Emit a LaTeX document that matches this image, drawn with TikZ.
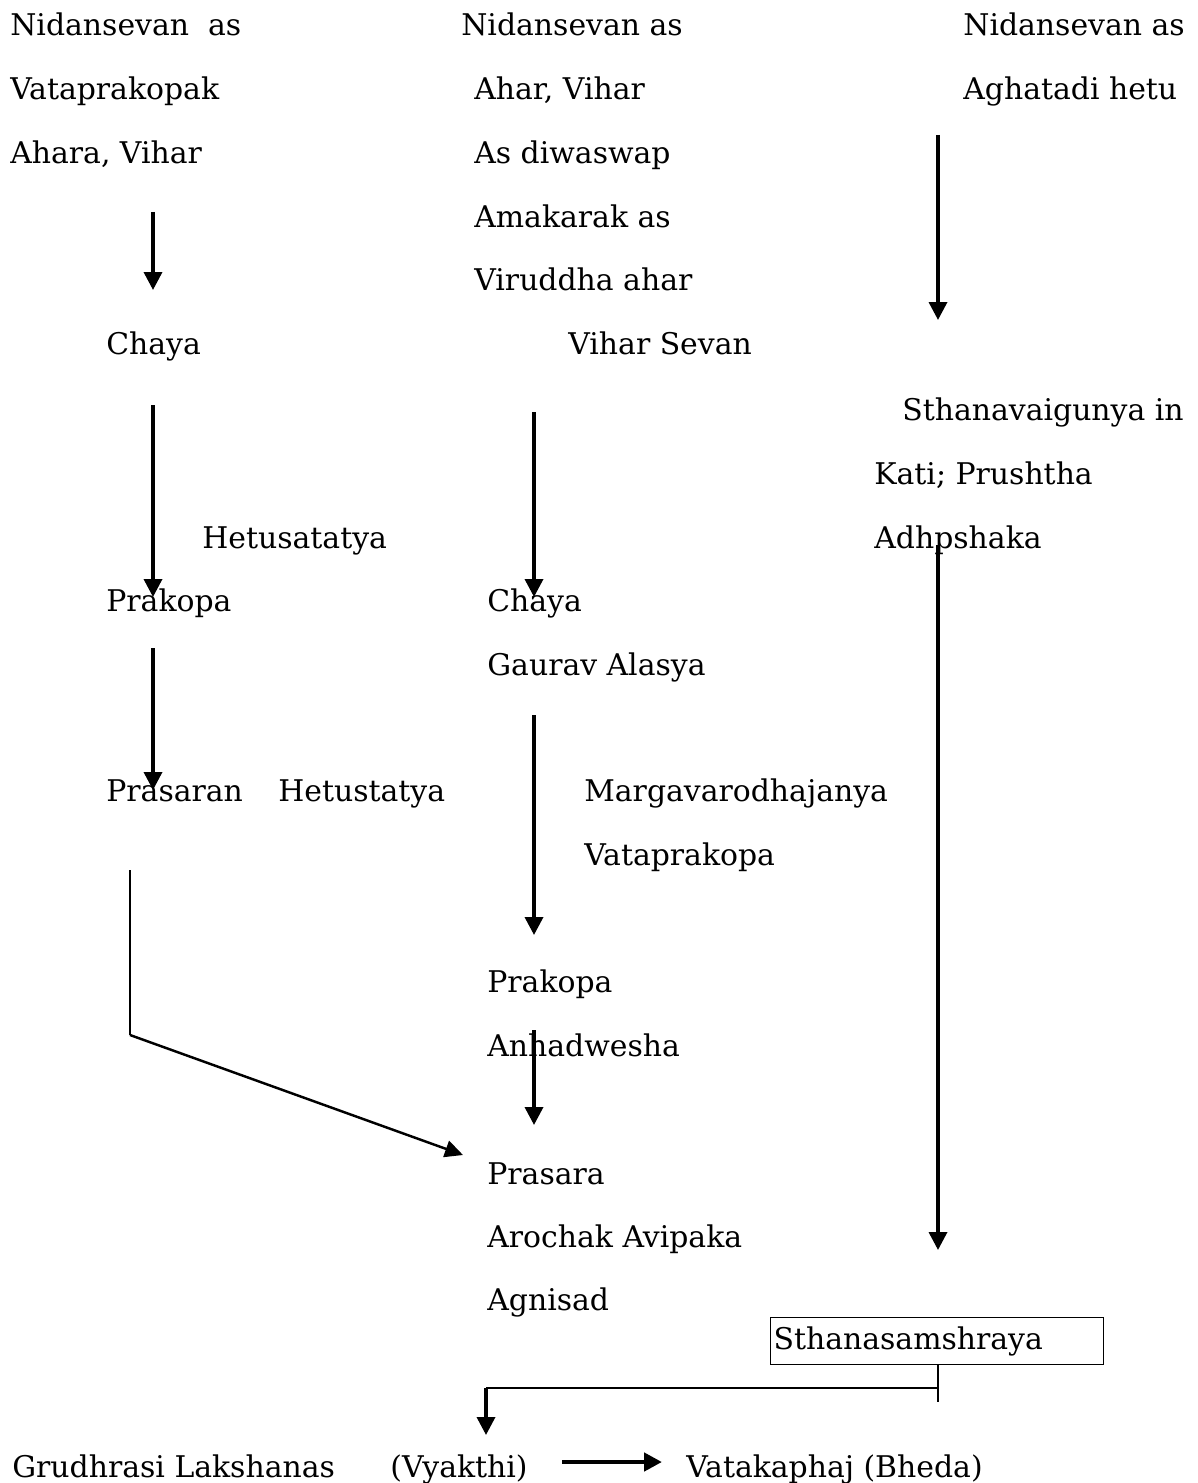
\documentclass[tikz,border=0pt]{standalone}
\usepackage{fontspec}
\setmainfont{DejaVu Serif}
\usetikzlibrary{arrows.meta,positioning}
\tikzset{
  stage/.style={anchor=base west, inner sep=0pt, font=\fontsize{17}{19}\selectfont},
  flow/.style={-{Triangle[length=3.6mm,width=3.6mm]}, line width=2pt},
  slant/.style={-{Triangle[length=3.6mm,width=3.4mm]}, line width=1.4pt},
  link/.style={line width=0.7pt},
  sitebox/.style={draw, line width=0.7pt, anchor=north west, inner xsep=0.06cm,
    text width=6.54cm, minimum height=0.94cm, align=left,
    font=\fontsize{17}{19}\selectfont}
}

\begin{document}
\begin{tikzpicture}[x=0.02cm, y=-0.02cm]
  \useasboundingbox (0,0) rectangle (1197,1483);

  % first column
  \node[stage] (nid1) at (10,36) {Nidansevan\ \ as};
  \node[stage] (vata1) at (10,100) {Vataprakopak};
  \node[stage] (ahara1) at (10,164) {Ahara, Vihar};
  \node[stage] (chaya1) at (106,355) {Chaya};
  \node[stage] (hetu1) at (202,548) {Hetusatatya};
  \node[stage] (prakopa1) at (106,611) {Prakopa};
  \node[stage] (prasaran1) at (106,801) {Prasaran};
  \node[stage] (hetu1b) at (278,801) {Hetustatya};

  % second column
  \node[stage] (nid2) at (461,36) {Nidansevan as};
  \node[stage] (ahar2) at (474,100) {Ahar, Vihar};
  \node[stage] (diwa2) at (474,164) {As diwaswap};
  \node[stage] (amak2) at (474,228) {Amakarak as};
  \node[stage] (virud2) at (474,291) {Viruddha ahar};
  \node[stage] (vihar2) at (568,355) {Vihar Sevan};
  \node[stage] (chaya2) at (487,611) {Chaya};
  \node[stage] (gaurav2) at (487,675) {Gaurav Alasya};
  \node[stage] (marga2) at (584,801) {Margavarodhajanya};
  \node[stage] (vatap2) at (584,865) {Vataprakopa};
  \node[stage] (prakopa2) at (487,992) {Prakopa};
  \node[stage] (anna2) at (487,1056) {Anhadwesha};
  \node[stage] (prasara2) at (487,1184) {Prasara};
  \node[stage] (aroch2) at (487,1247) {Arochak Avipaka};
  \node[stage] (agni2) at (487,1310) {Agnisad};

  % third column
  \node[stage] (nid3) at (963,36) {Nidansevan as};
  \node[stage] (aghat3) at (963,100) {Aghatadi hetu};
  \node[stage] (sthanav3) at (902,420) {Sthanavaigunya in};
  \node[stage] (kati3) at (874,484) {Kati; Prushtha};
  \node[stage] (adho3) at (874,548) {Adhpshaka};
  \node[sitebox] (samshraya) at (770,1317) {Sthanasamshraya};

  % bottom row
  \node[stage] (lakshana) at (12,1477) {Grudhrasi Lakshanas};
  \node[stage] (vyakthi) at (390,1477) {(Vyakthi)};
  \node[stage] (bheda) at (686,1477) {Vatakaphaj (Bheda)};

  % arrow ends
  \coordinate (a1) at (153,212);  \coordinate (b1) at (153,290);
  \coordinate (a2) at (153,405);  \coordinate (b2) at (153,597);
  \coordinate (a3) at (153,648);  \coordinate (b3) at (153,790);
  \coordinate (a4) at (130,870);  \coordinate (bend) at (130,1035);
  \coordinate (b4) at (463,1155);
  \coordinate (a5) at (534,412);  \coordinate (b5) at (534,597);
  \coordinate (a6) at (534,715);  \coordinate (b6) at (534,935);
  \coordinate (a7) at (534,1030); \coordinate (b7) at (534,1125);
  \coordinate (a8) at (938,135);  \coordinate (b8) at (938,320);
  \coordinate (a9) at (938,545);  \coordinate (b9) at (938,1250);
  \coordinate (stub) at (938,1402);
  \coordinate (join) at (938,1388);
  \coordinate (drop) at (486,1388); \coordinate (b10) at (486,1435);
  \coordinate (a11) at (562,1462); \coordinate (b11) at (662,1462);

  \draw[flow] (a1) -- (b1);
  \draw[flow] (a2) -- (b2);
  \draw[flow] (a3) -- (b3);
  \draw[link] (a4) -- (bend);
  \draw[slant] (bend) -- (b4);
  \draw[flow] (a5) -- (b5);
  \draw[flow] (a6) -- (b6);
  \draw[flow] (a7) -- (b7);
  \draw[flow] (a8) -- (b8);
  \draw[flow] (a9) -- (b9);
  \draw[link] (samshraya.south -| join) -- (stub);
  \draw[link] (join) -- (drop);
  \draw[flow] (drop) -- (b10);
  \draw[flow, line width=2.8pt] (a11) -- (b11);
\end{tikzpicture}
\end{document}
